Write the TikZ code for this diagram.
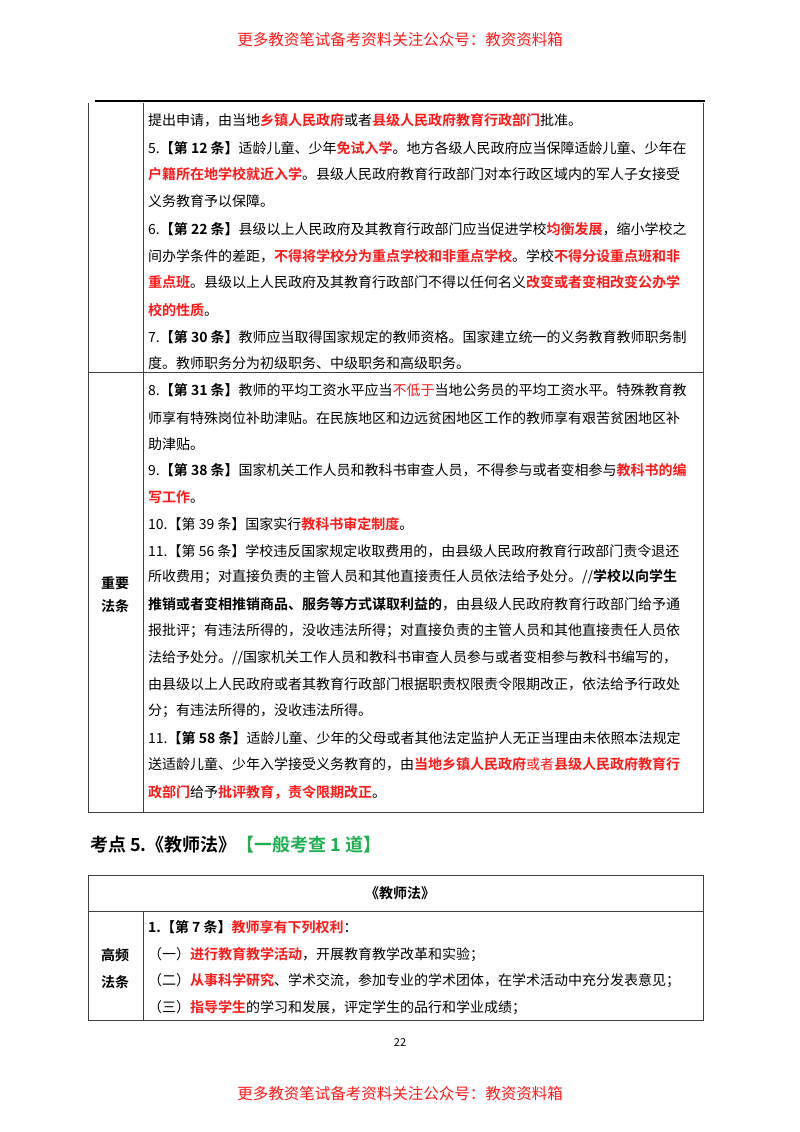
\documentclass[tikz,border=0pt]{standalone}
\usepackage{fontspec}
\setmainfont{Noto Sans CJK SC}[BoldFont={Noto Sans CJK SC Bold}]
\definecolor{myred}{HTML}{FF1A1A}
\definecolor{mygreen}{HTML}{1FAF50}
\newcommand{\Rd}[1]{\textcolor{myred}{\bfseries #1}}
\newcommand{\Bd}[1]{{\bfseries #1}}
\tikzset{ln/.style={anchor=west,inner sep=0pt,font=\fontsize{14}{14}\selectfont},
 hd/.style={anchor=center,inner sep=0pt,font=\fontsize{14}{14}\selectfont\bfseries},
 grid/.style={draw=black!75,line width=0.8pt}}
\begin{document}
\begin{tikzpicture}[x=1pt,y=-1pt]
\useasboundingbox (0,0) rectangle (800,1132);
\fill[white] (0,0) rectangle (800,1132);
\node[font=\fontsize{15.5}{16}\selectfont,text=myred] (h) at (400,40) {更多教资笔试备考资料关注公众号：教资资料箱};
\node[font=\fontsize{15.5}{16}\selectfont,text=myred] (f) at (400,1094) {更多教资笔试备考资料关注公众号：教资资料箱};
\node[font=\fontsize{11}{12}\selectfont] (pg) at (400,1042) {22};
% table 1
\draw[line width=1.4pt] (95,101) -- (705,101);
\draw[grid] (88,103) -- (88,812) -- (703,812) -- (703,103);
\draw[grid] (143,103) -- (143,812);
\draw[grid] (88,372) -- (703,372);
\node[ln] (a1) at (148,120) {提出申请，由当地\Rd{乡镇人民政府}或者\Rd{县级人民政府教育行政部门}批准。};
\node[ln] (a2) at (148,148) {5.\Bd{【第 12 条】}适龄儿童、少年\Rd{免试入学}。地方各级人民政府应当保障适龄儿童、少年在};
\node[ln] (a3) at (148,174) {\Rd{户籍所在地学校就近入学}。县级人民政府教育行政部门对本行政区域内的军人子女接受};
\node[ln] (a4) at (148,201) {义务教育予以保障。};
\node[ln] (a5) at (148,229) {6.\Bd{【第 22 条】}县级以上人民政府及其教育行政部门应当促进学校\Rd{均衡发展}，缩小学校之};
\node[ln] (a6) at (148,256) {间办学条件的差距，\Rd{不得将学校分为重点学校和非重点学校}。学校\Rd{不得分设重点班和非}};
\node[ln] (a7) at (148,282) {\Rd{重点班}。县级以上人民政府及其教育行政部门不得以任何名义\Rd{改变或者变相改变公办学}};
\node[ln] (a8) at (148,310) {\Rd{校的性质}。};
\node[ln] (a9) at (148,337) {7.\Bd{【第 30 条】}教师应当取得国家规定的教师资格。国家建立统一的义务教育教师职务制};
\node[ln] (a10) at (148,363) {度。教师职务分为初级职务、中级职务和高级职务。};
\node[ln] (b1) at (148,390) {8.\Bd{【第 31 条】}教师的平均工资水平应当\textcolor{myred}{不低于}当地公务员的平均工资水平。特殊教育教};
\node[ln] (b2) at (148,418) {师享有特殊岗位补助津贴。在民族地区和边远贫困地区工作的教师享有艰苦贫困地区补};
\node[ln] (b3) at (148,444) {助津贴。};
\node[ln] (b4) at (148,470) {9.\Bd{【第 38 条】}国家机关工作人员和教科书审查人员，不得参与或者变相参与\Rd{教科书的编}};
\node[ln] (b5) at (148,497) {\Rd{写工作}。};
\node[ln] (b6) at (148,524) {10.【第 39 条】国家实行\Rd{教科书审定制度}。};
\node[ln] (b7) at (148,551) {11.【第 56 条】学校违反国家规定收取费用的，由县级人民政府教育行政部门责令退还};
\node[ln] (b8) at (148,577) {所收费用；对直接负责的主管人员和其他直接责任人员依法给予处分。//\Bd{学校以向学生}};
\node[ln] (b9) at (148,604) {\Bd{推销或者变相推销商品、服务等方式谋取利益的}，由县级人民政府教育行政部门给予通};
\node[ln] (b10) at (148,631) {报批评；有违法所得的，没收违法所得；对直接负责的主管人员和其他直接责任人员依};
\node[ln] (b11) at (148,658) {法给予处分。//国家机关工作人员和教科书审查人员参与或者变相参与教科书编写的，};
\node[ln] (b12) at (148,684) {由县级以上人民政府或者其教育行政部门根据职责权限责令限期改正，依法给予行政处};
\node[ln] (b13) at (148,711) {分；有违法所得的，没收违法所得。};
\node[ln] (b14) at (148,738) {11.\Bd{【第 58 条】}适龄儿童、少年的父母或者其他法定监护人无正当理由未依照本法规定};
\node[ln] (b15) at (148,764) {送适龄儿童、少年入学接受义务教育的，由\Rd{当地乡镇人民政府}\textcolor{myred}{或者}\Rd{县级人民政府教育行}};
\node[ln] (b16) at (148,792) {\Rd{政部门}给予\Rd{批评教育，责令限期改正}。};
\node[hd] (k1) at (115,583) {重要};
\node[hd] (k2) at (115,606) {法条};
% heading
\node[anchor=west,inner sep=0pt,font=\fontsize{18}{18}\selectfont\bfseries] (t) at (90,845) {考点 5.《教师法》\textcolor{mygreen}{【一般考查 1 道】}};
% table 2
\draw[grid] (88,875) rectangle (703,1020);
\draw[grid] (88,911) -- (703,911);
\draw[grid] (143,911) -- (143,1020);
\node[hd] (c0) at (400,893) {《教师法》};
\node[ln] (c1) at (148,927) {\Bd{1.【第 7 条】}\Rd{教师享有下列权利}：};
\node[ln] (c2) at (148,955) {（一）\Rd{进行教育教学活动}，开展教育教学改革和实验；};
\node[ln] (c3) at (148,981) {（二）\Rd{从事科学研究}、学术交流，参加专业的学术团体，在学术活动中充分发表意见；};
\node[ln] (c4) at (148,1008) {（三）\Rd{指导学生}的学习和发展，评定学生的品行和学业成绩；};
\node[hd] (g1) at (115,955) {高频};
\node[hd] (g2) at (115,982) {法条};
\end{tikzpicture}
\end{document}
